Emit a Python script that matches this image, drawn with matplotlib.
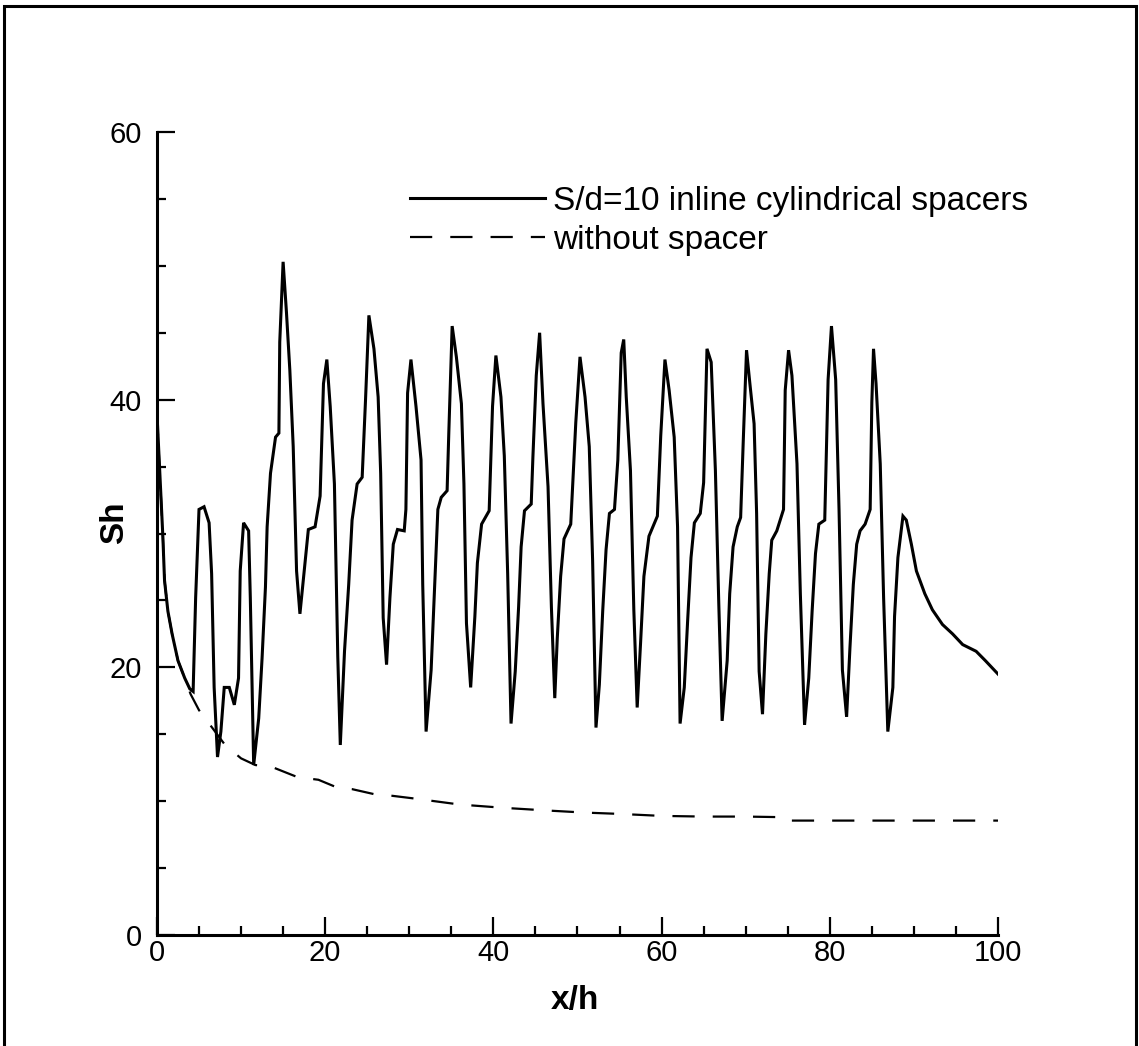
import matplotlib
matplotlib.use("Agg")
import matplotlib.pyplot as plt
from matplotlib.patches import Rectangle
from matplotlib.ticker import MultipleLocator

plt.rcParams['font.family'] = ['Liberation Sans', 'DejaVu Sans']
plt.rcParams['lines.scale_dashes'] = False

# ---- data ----
x_spacer = [0.0, 0.3, 0.7, 0.9, 1.3, 1.8, 2.5, 3.3, 3.9, 4.3, 4.6, 5.0, 5.6, 6.2, 6.5, 6.8, 7.2, 7.6,
            8.0, 8.6, 9.2, 9.7, 9.9, 10.3, 10.9, 11.1, 11.5, 12.1, 12.5, 12.9, 13.1, 13.5, 14.1, 14.5,
            14.6, 15.0, 15.4, 15.8, 16.2, 16.6, 17.0, 17.6, 18.0, 18.8, 19.4, 19.8, 20.2, 20.6, 21.1,
            21.5, 21.8, 22.3, 22.8, 23.2, 23.8, 24.4, 24.8, 25.2, 25.8, 26.3, 26.6, 26.9, 27.3, 27.7,
            28.1, 28.6, 29.4, 29.6, 29.8, 30.2, 30.8, 31.4, 31.6, 32.0, 32.6, 33.0, 33.4, 33.8, 34.5,
            34.7, 35.1, 35.6, 36.2, 36.5, 36.8, 37.3, 37.8, 38.1, 38.6, 39.5, 39.9, 40.3, 40.9, 41.3,
            41.7, 42.1, 42.6, 43.0, 43.3, 43.7, 44.5, 44.7, 45.1, 45.5, 45.9, 46.5, 46.9, 47.3, 47.6,
            48.0, 48.4, 49.2, 49.8, 50.3, 50.9, 51.4, 51.8, 52.2, 52.6, 53.0, 53.4, 53.8, 54.4, 54.8,
            55.2, 55.5, 55.8, 56.3, 56.7, 57.1, 57.5, 57.9, 58.5, 59.5, 59.9, 60.4, 60.9, 61.5, 61.9,
            62.2, 62.7, 63.1, 63.5, 63.9, 64.6, 65.0, 65.4, 65.9, 66.4, 66.8, 67.2, 67.8, 68.1, 68.5,
            69.0, 69.4, 69.7, 70.1, 70.5, 71.0, 71.3, 71.6, 72.0, 72.4, 72.8, 73.1, 73.7, 74.5, 74.7,
            75.1, 75.5, 76.1, 76.5, 77.0, 77.5, 77.9, 78.3, 78.7, 79.4, 79.8, 80.2, 80.7, 81.1, 81.5,
            82.0, 82.4, 82.8, 83.2, 83.6, 84.2, 84.8, 85.0, 85.2, 85.5, 86.0, 86.4, 86.9, 87.5, 87.7,
            88.1, 88.7, 89.1, 89.7, 90.3, 91.3, 92.2, 93.4, 94.6, 95.8, 97.4, 98.5, 100.0]
sh_spacer = [39.0, 35.0, 29.8, 26.5, 24.2, 22.5, 20.5, 19.2, 18.4, 18.2, 25.2, 31.8, 32.0, 30.8, 27.0,
             18.5, 13.3, 15.2, 18.5, 18.5, 17.2, 19.2, 27.2, 30.8, 30.2, 25.2, 12.7, 16.2, 20.7, 26.0,
             30.5, 34.5, 37.2, 37.5, 44.3, 50.3, 46.5, 42.2, 36.5, 27.2, 24.0, 27.8, 30.3, 30.5, 32.8,
             41.2, 43.0, 39.5, 33.7, 20.8, 14.2, 21.2, 26.2, 31.0, 33.7, 34.2, 40.0, 46.3, 43.8, 40.2,
             34.5, 23.7, 20.2, 25.2, 29.2, 30.3, 30.2, 31.8, 40.5, 43.0, 39.5, 35.5, 26.2, 15.2, 19.8,
             25.8, 31.8, 32.7, 33.2, 37.5, 45.5, 43.2, 39.7, 33.7, 23.3, 18.5, 23.8, 27.8, 30.7, 31.7,
             39.5, 43.3, 40.2, 35.8, 27.0, 15.8, 19.7, 24.5, 29.0, 31.7, 32.2, 35.7, 41.8, 45.0, 39.7,
             33.5, 24.5, 17.7, 22.2, 26.8, 29.6, 30.7, 38.3, 43.2, 40.2, 36.5, 28.0, 15.5, 18.7, 24.2,
             28.8, 31.5, 31.8, 35.5, 43.5, 44.5, 40.2, 34.7, 24.3, 17.0, 21.8, 26.8, 29.8, 31.3, 37.3,
             43.0, 40.7, 37.2, 30.5, 15.8, 18.5, 23.5, 28.2, 30.8, 31.5, 33.8, 43.8, 42.8, 34.7, 24.8,
             16.0, 20.5, 25.5, 29.0, 30.5, 31.2, 36.7, 43.7, 41.2, 38.2, 31.5, 19.7, 16.5, 22.5, 27.0,
             29.5, 30.2, 31.8, 40.7, 43.7, 41.8, 35.2, 25.5, 15.7, 19.2, 24.2, 28.5, 30.7, 31.0, 41.5,
             45.5, 41.5, 31.8, 19.8, 16.3, 21.5, 26.2, 29.2, 30.2, 30.7, 31.8, 39.8, 43.8, 41.2, 35.2,
             25.2, 15.2, 18.5, 23.8, 28.2, 31.3, 31.0, 29.2, 27.2, 25.5, 24.3, 23.2, 22.5, 21.7, 21.2,
             20.5, 19.5]

x_plain = [0.0, 0.3, 0.7, 0.9, 1.3, 1.8, 2.5, 3.3, 4.0, 5.0, 6.2, 8.1, 10.0, 11.7, 13.5, 16.7, 19.2,
           21.5, 23.2, 26.0, 28.0, 30.6, 33.0, 36.0, 41.3, 46.5, 50.8, 55.0, 60.0, 65.0, 70.0, 74.9,
           75.3, 80.0, 100.0]
sh_plain = [39.0, 35.0, 29.8, 26.5, 24.2, 22.5, 20.5, 19.2, 18.0, 16.8, 15.8, 14.2, 13.2, 12.7, 12.6,
            11.8, 11.6, 11.0, 10.9, 10.5, 10.4, 10.2, 10.0, 9.75, 9.5, 9.3, 9.15, 9.05, 8.9, 8.85,
            8.85, 8.8, 8.55, 8.55, 8.55]

labels = ["S/d=10 inline cylindrical spacers", "without spacer"]
x_ticks = [0, 20, 40, 60, 80, 100]
y_ticks = [0, 20, 40, 60]

# ---- figure ----
fig = plt.figure(figsize=(11.39, 10.46), dpi=100)
ax = fig.add_axes([0.1378, 0.1061, 0.8762 - 0.1378, 0.8738 - 0.1061])

l2, = ax.plot(x_plain, sh_plain, color='black', lw=1.6, linestyle=(0, (16, 13)))
l1, = ax.plot(x_spacer, sh_spacer, color='black', lw=2.2, solid_joinstyle='miter')

ax.set_xlim(0, 100)
ax.set_ylim(0, 60)
ax.set_xticks(x_ticks)
ax.set_yticks(y_ticks)
ax.xaxis.set_minor_locator(MultipleLocator(5))
ax.yaxis.set_minor_locator(MultipleLocator(5))
for s in ['top', 'right']:
    ax.spines[s].set_visible(False)
for s in ['left', 'bottom']:
    ax.spines[s].set_linewidth(2.2)
ax.tick_params(which='major', direction='in', length=13, width=1.6, labelsize=21)
ax.tick_params(which='minor', direction='in', length=6.5, width=1.6)
ax.tick_params(axis='y', which='major', pad=11)
ax.tick_params(axis='x', which='major', pad=3)

ax.set_xlabel("x/h", fontsize=24, fontweight='bold')
ax.set_ylabel("Sh", fontsize=24, fontweight='bold')
ax.xaxis.set_label_coords(0.497, -0.062)
ax.yaxis.set_label_coords(-0.032, 0.514)

ax.legend([l1, l2], labels, loc='upper left', bbox_to_anchor=(0.301, 0.9328),
          frameon=False, borderpad=0, borderaxespad=0, fontsize=24,
          handlelength=4.05, handletextpad=0.24, labelspacing=0.24)

fig.add_artist(Rectangle((4 / 1139, -0.05), (1136 - 4) / 1139, 1.05 - 6 / 1046,
                         transform=fig.transFigure, fill=False, lw=2.2, edgecolor='black'))

fig.savefig("out.png", dpi=100)
